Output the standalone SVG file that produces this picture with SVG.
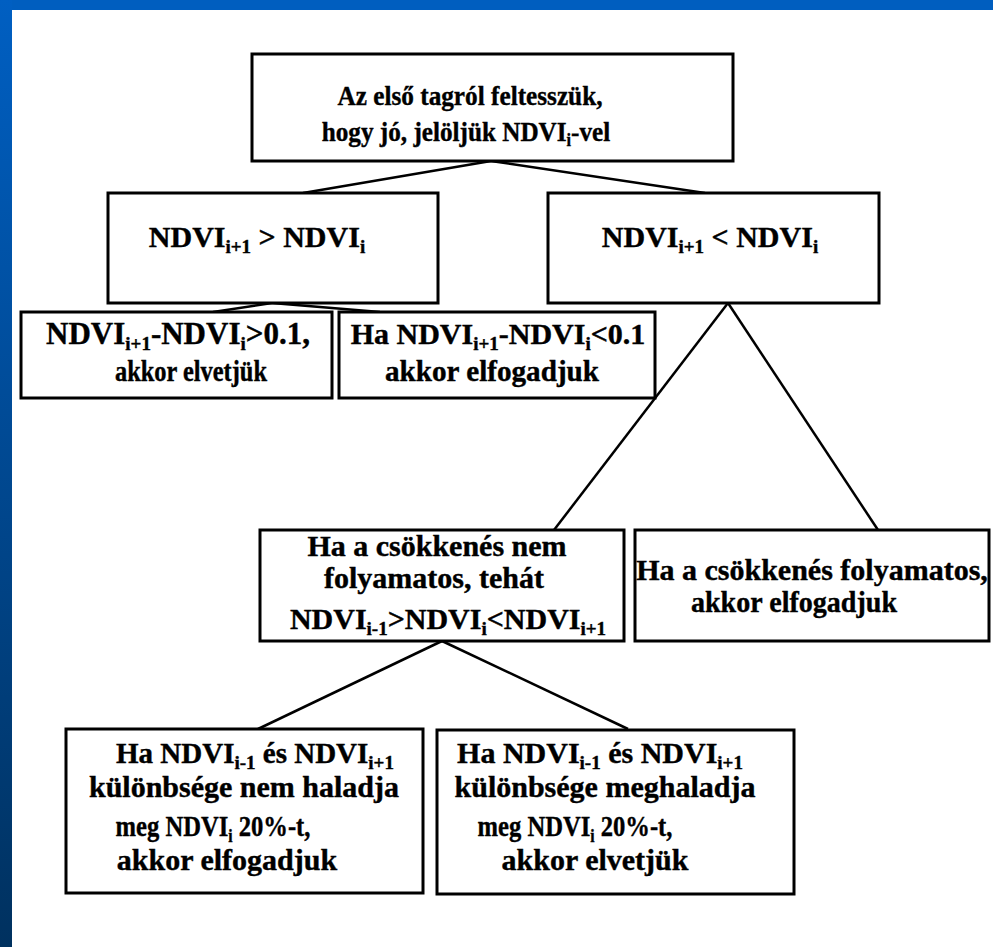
<svg xmlns="http://www.w3.org/2000/svg" width="993" height="947" viewBox="0 0 993 947">
<defs>
<linearGradient id="lb" x1="0" y1="0" x2="0" y2="1">
<stop offset="0" stop-color="#005fc2"/>
<stop offset="1" stop-color="#00315f"/>
</linearGradient>
</defs>
<style>
.box{fill:#fff;stroke:#000;stroke-width:3}
.con line{stroke:#000;stroke-width:2.5}
text{font-family:'Liberation Serif','Times New Roman',serif;font-weight:700;fill:#000;stroke:#000;stroke-width:0.4;text-anchor:middle}
.f28{font-size:28px}
.f29{font-size:29px}
.f30{font-size:30px}
.f31{font-size:31px}
.s{font-size:19px}
.s28{font-size:18px}
</style>
<rect x="0" y="0" width="993" height="947" fill="#fff"/>
<rect x="0" y="0" width="993" height="10" fill="#005ebf"/>
<rect x="0" y="0" width="12" height="947" fill="url(#lb)"/>

<g id="connectors" class="con">
<line x1="491" y1="161" x2="303" y2="193"/>
<line x1="491" y1="161" x2="705" y2="193"/>
<line x1="272" y1="303" x2="213" y2="312"/>
<line x1="272" y1="303" x2="380" y2="312"/>
<line x1="728" y1="303" x2="554" y2="530"/>
<line x1="728" y1="303" x2="878" y2="530"/>
<line x1="442" y1="641" x2="258" y2="729"/>
<line x1="442" y1="641" x2="628" y2="729"/>
</g>

<g id="top">
<rect class="box" x="252" y="54" width="481" height="107"/>
<text class="f28" x="470" y="105" textLength="265" lengthAdjust="spacingAndGlyphs">Az első tagról feltesszük,</text>
<text class="f28" transform="translate(466,141) scale(0.9,1)">hogy jó, jelöljük NDVI<tspan class="s28" dy="5">i</tspan><tspan dy="-5">-vel</tspan></text>
</g>

<g id="nodeA">
<rect class="box" x="108" y="193" width="330" height="110"/>
<text class="f30" x="257" y="247">NDVI<tspan class="s" dy="6">i+1</tspan><tspan dy="-6"> &gt; NDVI</tspan><tspan class="s" dy="6">i</tspan></text>
</g>

<g id="nodeB">
<rect class="box" x="548" y="193" width="331" height="110"/>
<text class="f30" x="710" y="247">NDVI<tspan class="s" dy="6">i+1</tspan><tspan dy="-6"> &lt; NDVI</tspan><tspan class="s" dy="6">i</tspan></text>
</g>

<g id="nodeC">
<rect class="box" x="21" y="312" width="311" height="86"/>
<text class="f31" x="178" y="344">NDVI<tspan class="s" dy="6">i+1</tspan><tspan dy="-6">-NDVI</tspan><tspan class="s" dy="6">i</tspan><tspan dy="-6">&gt;0.1,</tspan></text>
<text class="f29" x="191" y="381" textLength="152" lengthAdjust="spacingAndGlyphs">akkor elvetjük</text>
</g>

<g id="nodeD">
<rect class="box" x="339" y="312" width="316" height="86"/>
<text class="f30" x="498" y="344">Ha NDVI<tspan class="s" dy="6">i+1</tspan><tspan dy="-6">-NDVI</tspan><tspan class="s" dy="6">i</tspan><tspan dy="-6">&lt;0.1</tspan></text>
<text class="f30" x="492" y="381" textLength="214" lengthAdjust="spacingAndGlyphs">akkor elfogadjuk</text>
</g>

<g id="nodeE">
<rect class="box" x="260" y="530" width="364" height="111"/>
<text class="f30" x="437" y="556">Ha a csökkenés nem</text>
<text class="f30" x="434" y="588">folyamatos, tehát</text>
<text class="f30" x="448" y="629">NDVI<tspan class="s" dy="6">i-1</tspan><tspan dy="-6">&gt;NDVI</tspan><tspan class="s" dy="6">i</tspan><tspan dy="-6">&lt;NDVI</tspan><tspan class="s" dy="6">i+1</tspan></text>
</g>

<g id="nodeF">
<rect class="box" x="635" y="530" width="354" height="111"/>
<text class="f30" x="812" y="580">Ha a csökkenés folyamatos,</text>
<text class="f30" x="794" y="612" textLength="206" lengthAdjust="spacingAndGlyphs">akkor elfogadjuk</text>
</g>

<g id="nodeG">
<rect class="box" x="66" y="729" width="357" height="164"/>
<text class="f29" x="255" y="763">Ha NDVI<tspan class="s" dy="6">i-1</tspan><tspan dy="-6"> és NDVI</tspan><tspan class="s" dy="6">i+1</tspan></text>
<text class="f30" x="244" y="797">különbsége nem haladja</text>
<text class="f30" transform="translate(213,836) scale(0.82,1)">meg NDVI<tspan class="s" dy="6">i</tspan><tspan dy="-6"> 20%-t,</tspan></text>
<text class="f30" x="227" y="870">akkor elfogadjuk</text>
</g>

<g id="nodeH">
<rect class="box" x="437" y="730" width="357" height="164"/>
<text class="f30" x="600" y="763">Ha NDVI<tspan class="s" dy="6">i-1</tspan><tspan dy="-6"> és NDVI</tspan><tspan class="s" dy="6">i+1</tspan></text>
<text class="f30" x="605" y="797">különbsége meghaladja</text>
<text class="f30" transform="translate(575,836) scale(0.82,1)">meg NDVI<tspan class="s" dy="6">i</tspan><tspan dy="-6"> 20%-t,</tspan></text>
<text class="f30" x="595" y="870">akkor elvetjük</text>
</g>
</svg>
